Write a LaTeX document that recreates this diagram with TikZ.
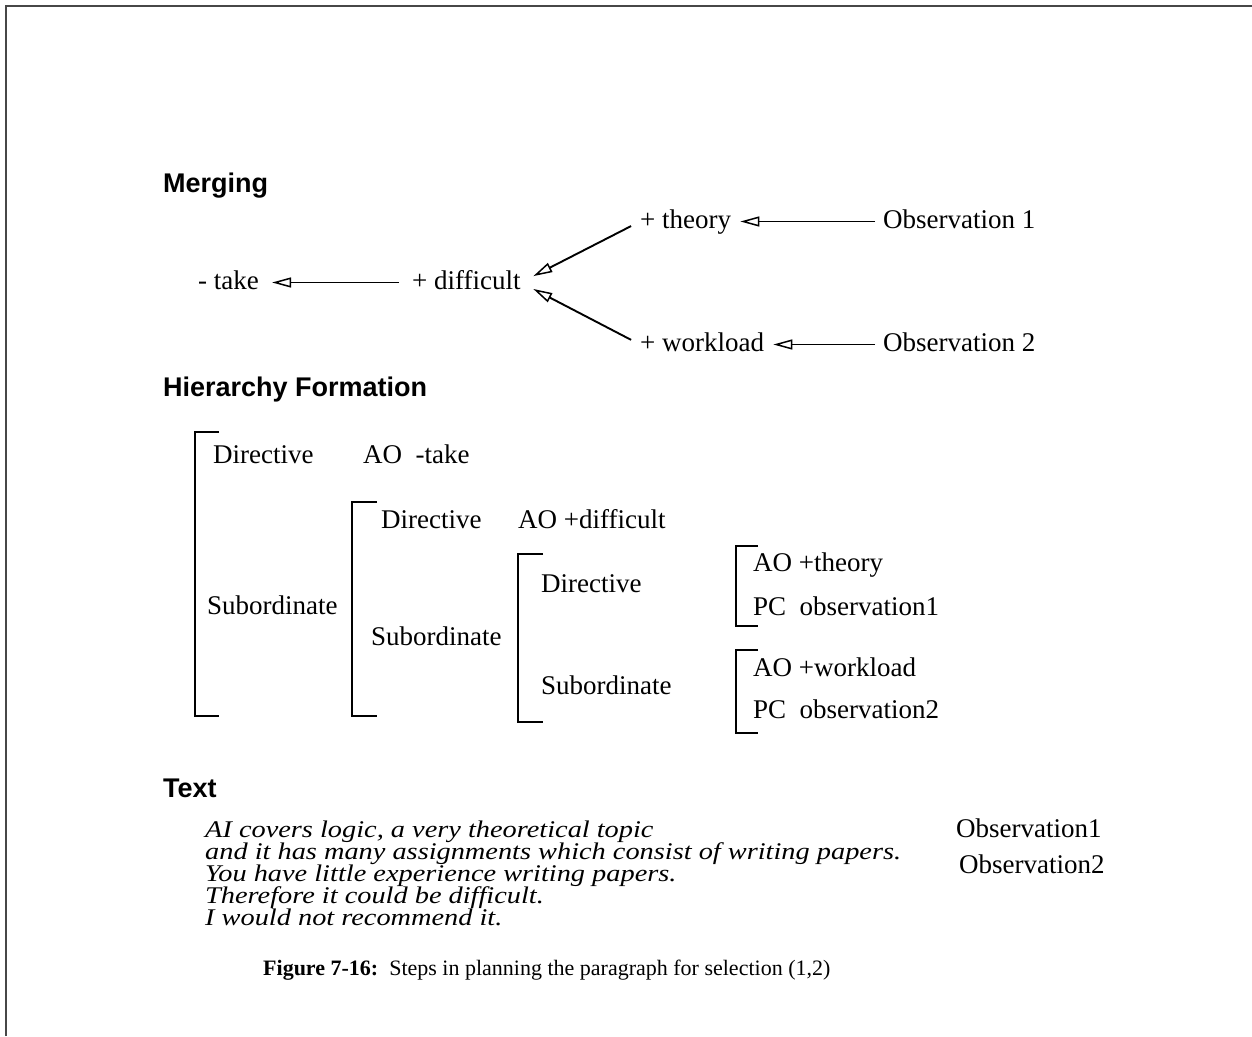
\documentclass[tikz,border=0pt]{standalone}
\usepackage{fontspec}
\setmainfont{Liberation Serif}
\setsansfont{Liberation Sans}
\usetikzlibrary{arrows.meta,positioning}

\begin{document}
\begin{tikzpicture}[x=1pt, y=-1pt,
  hdr/.style={font=\fontsize{27}{30}\selectfont\sffamily\bfseries,
              anchor=base west, inner sep=0pt},
  lbl/.style={font=\fontsize{27}{32}\selectfont, anchor=base west,
              inner sep=0pt, text height=19pt, text depth=6pt},
  itxt/.style={font=\fontsize{26}{22}\selectfont\itshape,
               anchor=base west, inner sep=0pt},
  capt/.style={font=\fontsize{22}{26}\selectfont, anchor=base west,
               inner sep=0pt},
  link/.style={line width=1.9pt,
               -{Triangle[open, length=19pt, width=10pt, line width=1.5pt]}},
  brk/.style={line width=2.2pt},
  frame/.style={line width=2.2pt, draw=black!72}
]
\useasboundingbox (0,0) rectangle (1252,1036);
\draw[frame] (6,1036) -- (6,6) -- (1252,6);

% Merging
\node[hdr] (hmerge) at (163,192) {Merging};
\node[lbl] (take) at (198,289) {- take};
\node[lbl] (diff) at (412,289) {+ difficult};
\node[lbl] (theory) at (640,228) {+ theory};
\node[lbl] (work) at (640,351) {+ workload};
\node[lbl] (obsA) at (883,228) {Observation 1};
\node[lbl] (obsB) at (883,351) {Observation 2};
\draw[link, shorten <=13pt, shorten >=13pt] (diff.west) -- (take.east);
\draw[link, shorten <=10pt, shorten >=14pt] (theory.west) -- (diff.east);
\draw[link, shorten <=10pt, shorten >=14pt] (work.west) -- (diff.east);
\draw[link, shorten <=8pt, shorten >=9pt] (obsA.west) -- (theory.east);
\draw[link, shorten <=8pt, shorten >=9pt] (obsB.west) -- (work.east);

% Hierarchy formation
\node[hdr] (hhier) at (163,396) {Hierarchy Formation};
\draw[brk] (219,432) -| (195,716) -- (219,716);
\node[lbl] (dirA) at (213,463) {Directive};
\node[lbl] (aoA) at (363,463) {AO\ \ -take};
\node[lbl] (subA) at (207,614) {Subordinate};
\draw[brk] (377,502) -| (352,716) -- (377,716);
\node[lbl] (dirB) at (381,528) {Directive};
\node[lbl] (aoB) at (518,528) {AO +difficult};
\node[lbl] (subB) at (371,645) {Subordinate};
\draw[brk] (543,554) -| (518,722) -- (543,722);
\node[lbl] (dirC) at (541,592) {Directive};
\node[lbl] (subC) at (541,694) {Subordinate};
\draw[brk] (758,546) -| (736,626) -- (758,626);
\node[lbl] (aoC) at (753,571) {AO +theory};
\node[lbl] (pcC) at (753,615) {PC\ \ observation1};
\draw[brk] (758,650) -| (736,733) -- (758,733);
\node[lbl] (aoD) at (753,676) {AO +workload};
\node[lbl] (pcD) at (753,718) {PC\ \ observation2};

% Text
\node[hdr] (htext) at (163,797) {Text};
\foreach \ln [count=\k] in {{AI covers logic, a very theoretical topic},
    {and it has many assignments which consist of writing papers.},
    {You have little experience writing papers.},
    {Therefore it could be difficult.},
    {I would not recommend it.}}
  \node[itxt] (line\k) at (205,815+22*\k) {\scalebox{1.09}[0.92]{\ln}};
\node[lbl] (noteA) at (956,837) {Observation1};
\node[lbl] (noteB) at (959,873) {Observation2};

\node[capt] (caption) at (263,975) {\textbf{Figure 7-16:}\ \ Steps in planning the paragraph for selection (1,2)};
\end{tikzpicture}
\end{document}
